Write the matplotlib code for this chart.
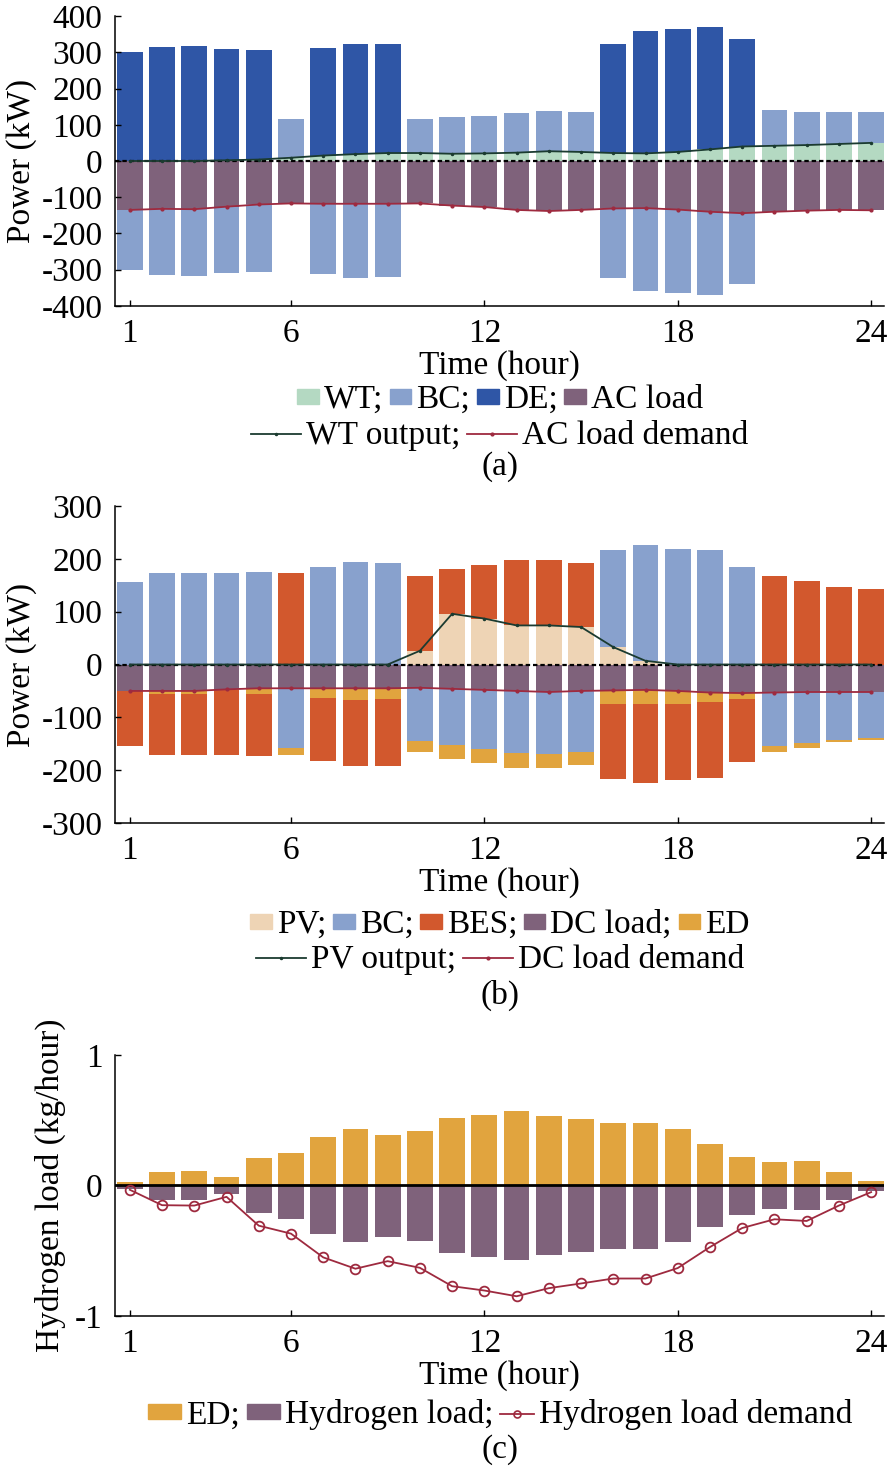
import numpy as np
import matplotlib
matplotlib.use("Agg")
import matplotlib.pyplot as plt
from matplotlib.patches import Patch
from matplotlib.lines import Line2D

plt.rcParams['font.family'] = ['Liberation Serif', 'DejaVu Serif']
plt.rcParams['axes.unicode_minus'] = False
plt.rcParams['font.size'] = 24

hours = np.arange(1, 25)
xticks = [1, 6, 12, 18, 24]

# (a) AC side, kW
wt_out = [0, 0, 0, 2, 4, 9, 15, 19, 22, 22, 20, 21, 23, 27, 25, 22, 21, 25, 32, 40, 42, 44, 47, 50]
de_out = [301, 314, 316, 308, 301, 0, 297, 304, 300, 0, 0, 0, 0, 0, 0, 302, 339, 340, 338, 298, 0, 0, 0, 0]
bc_dis_a = [0, 0, 0, 0, 0, 108, 0, 0, 0, 95, 101, 104, 110, 110, 109, 0, 0, 0, 0, 0, 98, 92, 88, 85]
ac_demand = [135, 132, 133, 126, 120, 117, 118, 118, 118, 117, 123, 127, 135, 138, 135, 131, 130, 134, 140, 144, 140, 137, 135, 136]
bc_ch_a = [166, 182, 183, 184, 185, 0, 194, 205, 203, 0, 0, 0, 0, 0, 0, 192, 229, 230, 230, 195, 0, 0, 0, 0]

# (b) DC side, kW
pv_out = [0, 0, 0, 0, 0, 0, 0, 0, 0, 26, 96, 87, 74, 74, 71, 33, 7, 0, 0, 0, 0, 0, 0, 0]
bc_dis_b = [156, 173, 174, 173, 175, 0, 184, 194, 193, 0, 0, 0, 0, 0, 0, 183, 219, 219, 216, 184, 0, 0, 0, 0]
bes_dis = [0, 0, 0, 0, 0, 173, 0, 0, 0, 141, 84, 101, 123, 123, 122, 0, 0, 0, 0, 0, 167, 159, 147, 143]
dc_demand = [50, 50, 50, 47, 45, 45, 45, 45, 45, 44, 46, 48, 50, 52, 50, 49, 48, 50, 53, 54, 53, 52, 52, 52]
bc_ch_b = [0, 0, 0, 0, 0, 113, 0, 0, 0, 100, 107, 111, 117, 117, 115, 0, 0, 0, 0, 0, 102, 97, 90, 88]
ed_b = [0, 5, 6, 1, 11, 13, 19, 23, 20, 22, 26, 28, 29, 27, 26, 26, 26, 24, 17, 12, 10, 9, 5, 3]
bes_ch = [105, 117, 116, 124, 118, 0, 119, 125, 127, 0, 0, 0, 0, 0, 0, 141, 151, 144, 145, 118, 0, 0, 0, 0]

# (c) hydrogen, kg/hour
ed_h2 = [0.023, 0.10, 0.108, 0.064, 0.21, 0.25, 0.37, 0.43, 0.39, 0.42, 0.52, 0.54,
         0.57, 0.53, 0.51, 0.48, 0.48, 0.43, 0.315, 0.22, 0.177, 0.185, 0.10, 0.036]
h2_load = [0.026, 0.108, 0.11, 0.064, 0.213, 0.256, 0.374, 0.433, 0.395, 0.428, 0.52, 0.546,
           0.572, 0.536, 0.51, 0.485, 0.485, 0.433, 0.32, 0.223, 0.18, 0.187, 0.108, 0.041]
h2_demand = [0.033, 0.151, 0.154, 0.087, 0.308, 0.369, 0.551, 0.638, 0.58, 0.631, 0.772, 0.805,
             0.849, 0.787, 0.751, 0.713, 0.713, 0.633, 0.472, 0.326, 0.259, 0.272, 0.154, 0.051]

c_wt = '#b4d9c2'
c_bc = '#88a1cd'
c_de = '#2f56a6'
c_load = '#7f627b'
c_red = '#9e2a3f'
c_dark = '#1b3b30'
c_bes = '#d2582d'
c_ed = '#e1a43e'
c_pv = '#eed4b5'

W = 0.8


def style(ax, ylim, yticks, ylabel, lpad):
    ax.set_xlim(0.54, 24.4)
    ax.set_ylim(*ylim)
    ax.set_xticks(xticks)
    ax.set_yticks(yticks)
    ax.spines['top'].set_visible(False)
    ax.spines['right'].set_visible(False)
    for s in ['left', 'bottom']:
        ax.spines[s].set_linewidth(1.1)
    ax.tick_params(direction='in', length=4, width=1, pad=9)
    ax.set_xlabel('Time (hour)', labelpad=1)
    ax.set_ylabel(ylabel, labelpad=lpad)


def legend_row(handles, labels, y, hl):
    fig.legend(handles, labels, loc='center', bbox_to_anchor=(0.563, y),
               bbox_transform=fig.transFigure, ncol=len(handles), frameon=False,
               handlelength=hl, handleheight=0.33, handletextpad=0.15,
               columnspacing=0.2, borderpad=0, borderaxespad=0, fontsize=24)


fig = plt.figure(figsize=(8.88, 14.71), dpi=100)
L, Wd = 0.1295, 0.866

# ---- (a)
ax1 = fig.add_axes([L, 0.792, Wd, 0.1971])
wt = np.array(wt_out)
bca = np.array(bc_dis_a)
ax1.bar(hours, wt, W, color=c_wt, lw=0)
ax1.bar(hours, bca, W, bottom=wt, color=c_bc, lw=0)
ax1.bar(hours, de_out, W, bottom=wt + bca, color=c_de, lw=0)
ax1.bar(hours, -np.array(ac_demand), W, color=c_load, lw=0)
ax1.bar(hours, -np.array(bc_ch_a), W, bottom=-np.array(ac_demand), color=c_bc, lw=0)
ax1.axhline(0, color='black', lw=1.6, ls=(0, (2, 1.3)))
ax1.plot(hours, wt_out, color=c_dark, lw=1.3, marker='.', ms=3)
ax1.plot(hours, -np.array(ac_demand), color=c_red, lw=1.3, marker='.', ms=4)
style(ax1, (-400, 400), range(-400, 401, 100), 'Power (kW)', 3)

legend_row([Patch(color=c) for c in [c_wt, c_bc, c_de, c_load]],
           ['WT;', 'BC;', 'DE;', 'AC load'], 0.7281, 0.65)
legend_row([Line2D([], [], color=c_dark, lw=1.3, marker='.', ms=3),
            Line2D([], [], color=c_red, lw=1.3, marker='.', ms=4)],
           ['WT output;', 'AC load demand'], 0.7036, 1.5)
fig.text(0.563, 0.6825, '(a)', ha='center', va='center', fontsize=24)

# ---- (b)
ax2 = fig.add_axes([L, 0.4405, Wd, 0.2155])
pv = np.array(pv_out)
bcb = np.array(bc_dis_b)
ax2.bar(hours, pv, W, color=c_pv, lw=0)
ax2.bar(hours, bcb, W, bottom=pv, color=c_bc, lw=0)
ax2.bar(hours, bes_dis, W, bottom=pv + bcb, color=c_bes, lw=0)
dcd = -np.array(dc_demand)
bcc = -np.array(bc_ch_b)
edb = -np.array(ed_b)
ax2.bar(hours, dcd, W, color=c_load, lw=0)
ax2.bar(hours, bcc, W, bottom=dcd, color=c_bc, lw=0)
ax2.bar(hours, edb, W, bottom=dcd + bcc, color=c_ed, lw=0)
ax2.bar(hours, -np.array(bes_ch), W, bottom=dcd + bcc + edb, color=c_bes, lw=0)
ax2.axhline(0, color='black', lw=1.6, ls=(0, (2, 1.3)))
ax2.plot(hours, pv_out, color=c_dark, lw=1.3, marker='.', ms=3)
ax2.plot(hours, dcd, color=c_red, lw=1.3, marker='.', ms=4)
style(ax2, (-300, 300), range(-300, 301, 100), 'Power (kW)', 3)

legend_row([Patch(color=c) for c in [c_pv, c_bc, c_bes, c_load, c_ed]],
           ['PV;', 'BC;', 'BES;', 'DC load;', 'ED'], 0.3712, 0.65)
legend_row([Line2D([], [], color=c_dark, lw=1.3, marker='.', ms=3),
            Line2D([], [], color=c_red, lw=1.3, marker='.', ms=4)],
           ['PV output;', 'DC load demand'], 0.3474, 1.5)
fig.text(0.563, 0.3236, '(b)', ha='center', va='center', fontsize=24)

# ---- (c)
ax3 = fig.add_axes([L, 0.1054, Wd, 0.1774])
ax3.bar(hours, ed_h2, W, color=c_ed, lw=0)
ax3.bar(hours, -np.array(h2_load), W, color=c_load, lw=0)
ax3.axhline(0, color='black', lw=2)
ax3.plot(hours, -np.array(h2_demand), color=c_red, lw=1.3, marker='o', ms=7,
         mfc='none', mec=c_red, mew=1.3)
style(ax3, (-1, 1), [-1, 0, 1], 'Hydrogen load (kg/hour)', 6)

fig.legend([Patch(color=c_ed), Patch(color=c_load),
            Line2D([], [], color=c_red, lw=1.3, marker='o', ms=5, mfc='none', mew=1.2)],
           ['ED;', 'Hydrogen load;', 'Hydrogen load demand'], loc='center',
           bbox_to_anchor=(0.563, 0.0381), bbox_transform=fig.transFigure, ncol=3,
           frameon=False, handlelength=1.0, handleheight=0.33, handletextpad=0.15,
           columnspacing=0.2, borderpad=0, borderaxespad=0, fontsize=24)
fig.text(0.563, 0.0143, '(c)', ha='center', va='center', fontsize=24)

fig.savefig('out.png', dpi=100)
